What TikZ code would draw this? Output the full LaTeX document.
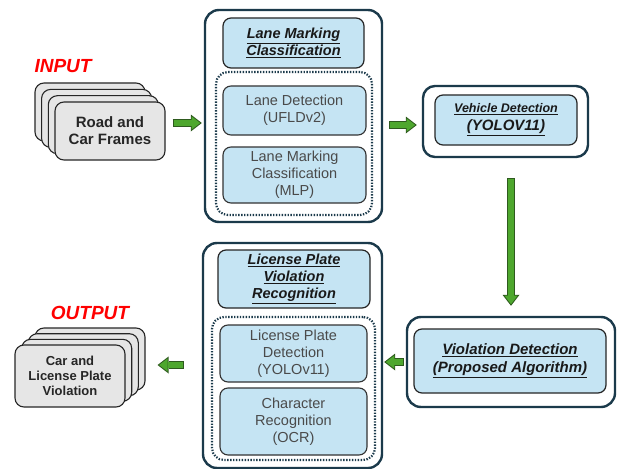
\documentclass[tikz,border=0pt]{standalone}
\usepackage{fontspec}
\setmainfont{Liberation Sans}
\usetikzlibrary{arrows.meta,shadows}
\definecolor{framenavy}{HTML}{1B3A4B}
\definecolor{boxblue}{HTML}{C5E4F3}
\definecolor{stackgray}{HTML}{E6E6E6}
\definecolor{arrowgreen}{HTML}{4EA72E}
\definecolor{arrowdark}{HTML}{2E5A1E}
\definecolor{textgray}{HTML}{4A4A4A}
\newcommand\fsz[2]{\fontsize{#1}{#2}\selectfont}

\begin{document}
\begin{tikzpicture}[x=1pt,y=-1pt,
  frame/.style={draw=framenavy,line width=2.4pt,rounded corners=14pt,fill=white,inner sep=0pt},
  dotframe/.style={draw=framenavy,line width=2.2pt,dash pattern=on 1.4pt off 1.5pt,rounded corners=12pt,inner sep=0pt},
  head/.style={draw=black!85,line width=1.2pt,fill=boxblue,rounded corners=8pt,align=center,font=\bfseries\itshape\fsz{14.5}{17},text=black!90},
  sub/.style={draw=black!80,line width=1.1pt,fill=boxblue,rounded corners=8pt,align=center,font=\fsz{14.5}{17},text=textgray},
  stackbox/.style={draw=black!85,line width=1.1pt,fill=stackgray,rounded corners=9pt,align=center,text=black!85},
  backcopy/.style 2 args={copy shadow={shadow xshift=#1,shadow yshift=#2,fill=stackgray,draw=black!85,line width=1.1pt}},
  label/.style={text=red,font=\bfseries\itshape\fsz{19}{22}},
  garrow/.style 2 args={draw=arrowdark,line width=8pt,shorten <=#1,shorten >=#2,
    -{Triangle[length=11pt,width=17pt,line width=0pt]},
    postaction={draw=arrowgreen,line width=6pt,shorten <=#1+1pt,shorten >=#2+1.6pt,
      -{Triangle[length=8.5pt,width=13pt,line width=0pt]}}}
]
\useasboundingbox (0,0) rectangle (620,468);

\node[label] (intitle) at (63,66) {INPUT};
\node[stackbox,font=\bfseries\fsz{15}{17},minimum width=110pt,minimum height=58pt,
  backcopy={-20pt}{19pt},backcopy={-13.4pt}{12.6pt},backcopy={-6.7pt}{6.3pt}]
  (in) at (110,131) {Road and\\Car Frames};

\node[frame,minimum width=177pt,minimum height=212pt] (lane) at (293.5,116) {};
\node[head,minimum width=141pt,minimum height=50pt] (lanehead) at (293.5,43)
  {\underline{Lane Marking}\\\underline{Classification}};
\node[dotframe,minimum width=156pt,minimum height=143pt] (lanedots) at (294,143.5) {};
\node[sub,minimum width=143pt,minimum height=49pt] (lanedet) at (294.5,110.5)
  {Lane Detection\\(UFLDv2)};
\node[sub,minimum width=143pt,minimum height=56pt] (lanemlp) at (294.5,175)
  {Lane Marking\\Classification\\(MLP)};

\node[frame,rounded corners=12pt,minimum width=165pt,minimum height=71pt] (veh) at (505.5,121.5) {};
\node[head,minimum width=142pt,minimum height=50pt] (vehhead) at (506,120)
  {{\fsz{12.5}{15}\underline{Vehicle Detection}}\\[1pt]{\fsz{15}{17}\underline{(YOLOV11)}}};

\node[frame,minimum width=208pt,minimum height=90pt] (viol) at (511,362) {};
\node[head,font=\bfseries\itshape\fsz{15}{18},minimum width=192pt,minimum height=64pt] (violhead) at (510,361)
  {\underline{Violation Detection}\\\underline{(Proposed Algorithm)}};

\node[frame,minimum width=179pt,minimum height=225pt] (lic) at (292.5,355.5) {};
\node[head,minimum width=152pt,minimum height=58pt] (lichead) at (294,279)
  {\underline{License Plate}\\\underline{Violation}\\\underline{Recognition}};
\node[dotframe,minimum width=163pt,minimum height=143pt] (licdots) at (293.5,388.5) {};
\node[sub,minimum width=147pt,minimum height=57pt] (licdet) at (293.5,353.5)
  {License Plate\\Detection\\(YOLOv11)};
\node[sub,minimum width=147pt,minimum height=67pt] (licocr) at (293.5,421.5)
  {Character\\Recognition\\(OCR)};

\node[label] (outtitle) at (90,313) {OUTPUT};
\node[stackbox,font=\bfseries\fsz{13}{15},minimum width=110pt,minimum height=62pt,
  backcopy={20pt}{17pt},backcopy={13.3pt}{11.3pt},backcopy={6.7pt}{5.7pt}]
  (out) at (70,376) {Car and\\License Plate\\Violation};

\draw[garrow={7pt}{2pt}] ([yshift=8pt]in.east) -- ([yshift=8pt]in.east -| lane.west);
\draw[garrow={6pt}{5pt}] ([yshift=-3.5pt]veh.west -| lane.east) -- ([yshift=-3.5pt]veh.west);
\draw[garrow={20pt}{10pt}] (viol.north |- veh.south) -- (viol.north);
\draw[garrow={2pt}{1pt}] (viol.west) -- (viol.west -| lic.east);
\draw[garrow={18pt}{32pt}] ([yshift=-9.5pt]lic.west) -- ([yshift=-9.5pt]lic.west -| out.east);
\end{tikzpicture}
\end{document}
